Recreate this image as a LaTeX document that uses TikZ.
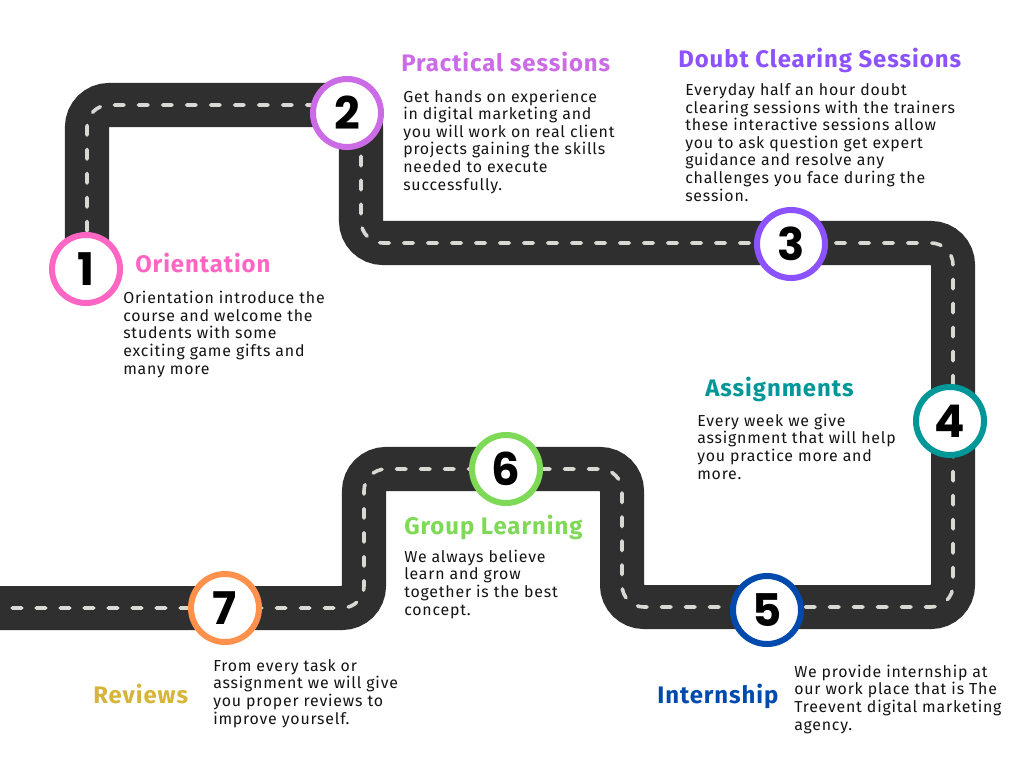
\documentclass[tikz,border=0pt]{standalone}
\usepackage{fontspec}
\setmainfont{Fira Sans}[LetterSpace=5]
\newfontfamily\titlefont{Fira Sans}[LetterSpace=4]
\newfontfamily\digitfont{Poppins}
\definecolor{colorroad}   {RGB}{47 ,47 ,47 }
\definecolor{colorlane}   {RGB}{214,218,210}
\definecolor{colorone}    {RGB}{255,102,196}
\definecolor{colortwo}    {RGB}{203,108,230}
\definecolor{colorthree}  {RGB}{140,82 ,255}
\definecolor{colorfour}   {RGB}{0  ,151,153}
\definecolor{colorfive}   {RGB}{0  ,74 ,173}
\definecolor{colorsix}    {RGB}{126,217,87 }
\definecolor{colorseven}  {RGB}{255,145,77 }
\definecolor{colorreview} {RGB}{214,181,58 }
\definecolor{colortext}   {RGB}{20 ,20 ,20 }

\begin{document}
\begin{tikzpicture}[
    x=0.025cm, y=-0.025cm,
    road/.style={draw=colorroad,line width=1.1cm,rounded corners=0.55cm},
    lane/.style={draw=colorlane,line width=0.09cm,dash pattern=on 0.24cm off 0.36cm,line cap=round},
    stop/.style={circle,draw,fill=white,line width=0.15cm,minimum size=1.7cm,inner sep=0pt,
        text=black,font={\digitfont\bfseries\fontsize{32}{32}\selectfont}},
    title/.style={anchor=base west,inner sep=0pt,font={\titlefont\bfseries\fontsize{17}{20}\selectfont}},
    % anchored at the baseline of the last line
    body/.style={anchor=base west,inner sep=0pt,align=left,text=colortext,
        font={\fontsize{11.3}{12.45}\selectfont}},
]
    \useasboundingbox[fill=white] (0,0) rectangle (1024,768);

    % the road
    \draw[road,postaction={lane}] (87,255) -- (87,105) -- (361,105) -- (361,243)
        -- (953,243) -- (953,607) -- (622,607) -- (622,469) -- (364,469)
        -- (364,608) -- (-40,608);

    % stops
    \node[stop,draw=colorone]   (n1) at (86,269)  {1};
    \node[stop,draw=colortwo]   (n2) at (347,113) {2};
    \node[stop,draw=colorthree] (n3) at (791,244) {3};
    \node[stop,draw=colorfour]  (n4) at (950,421) {4};
    \node[stop,draw=colorfive]  (n5) at (767,610) {5};
    \node[stop,draw=colorsix]   (n6) at (506,469) {6};
    \node[stop,draw=colorseven] (n7) at (225,608) {7};

    \node[title,text=colorone] (t1) at (135,272) {Orientation};
    \node[body] (b1) at (123,374) {Orientation introduce the\\
    course and welcome the\\
    students with some\\
    exciting game gifts and\\
    many more};

    \node[title,text=colortwo] (t2) at (401,72) {Practical sessions};
    \node[body] (b2) at (403,190) {Get hands on experience\\
    in digital marketing and\\
    you will work on real client\\
    projects gaining the skills\\
    needed to execute\\
    successfully.};

    \node[title,text=colorthree] (t3) at (678,68) {Doubt Clearing Sessions};
    \node[body] (b3) at (685,201) {Everyday half an hour doubt\\
    clearing sessions with the trainers\\
    these interactive sessions allow\\
    you to ask question get expert\\
    guidance and resolve any\\
    challenges you face during the\\
    session.};

    \node[title,text=colorfour] (t4) at (705,396) {Assignments};
    \node[body] (b4) at (697,479) {Every week we give\\
    assignment that will help\\
    you practice more and\\
    more.};

    \node[title,text=colorfive] (t5) at (657,703) {Internship};
    \node[body] (b5) at (794,730) {We provide internship at\\
    our work place that is The\\
    Treevent digital marketing\\
    agency.};

    \node[title,text=colorsix] (t6) at (404,534) {Group Learning};
    \node[body] (b6) at (404,615) {We always believe\\
    learn and grow\\
    together is the best\\
    concept.};

    \node[title,text=colorreview] (t7) at (93,703) {Reviews};
    \node[body] (b7) at (213,724) {From every task or\\
    assignment we will give\\
    you proper reviews to\\
    improve yourself.};

\end{tikzpicture}
\end{document}
